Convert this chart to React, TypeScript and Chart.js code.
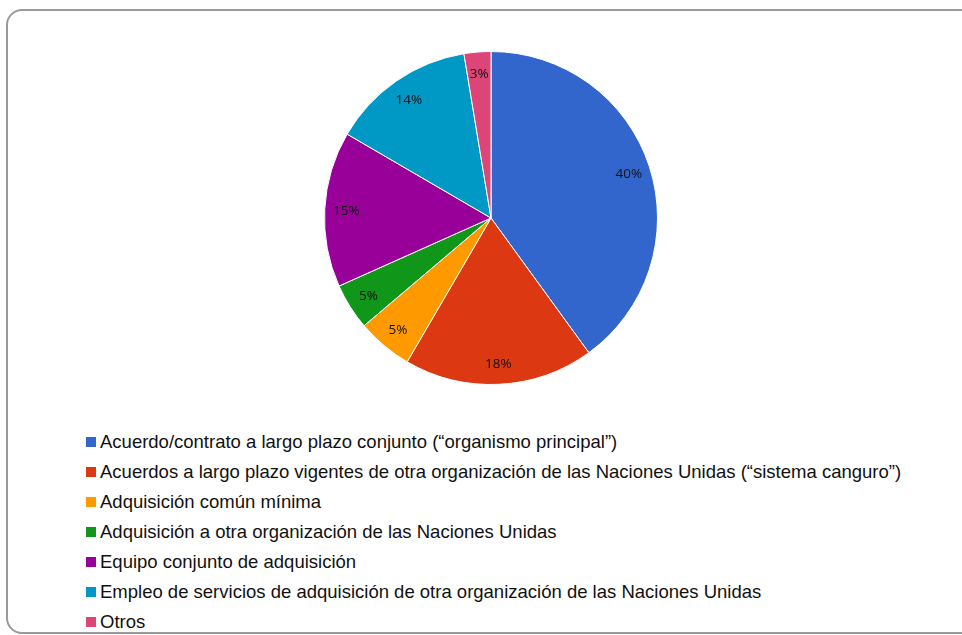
import React, { useEffect, useRef } from "react";
import { Chart, registerables } from "chart.js";

Chart.register(...registerables);

const categories: string[] = [
  "Acuerdo/contrato a largo plazo conjunto (“organismo principal”)",
  "Acuerdos a largo plazo vigentes de otra organización de las Naciones Unidas (“sistema canguro”)",
  "Adquisición común mínima",
  "Adquisición a otra organización de las Naciones Unidas",
  "Equipo conjunto de adquisición",
  "Empleo de servicios de adquisición de otra organización de las Naciones Unidas",
  "Otros",
];

const values: number[] = [40, 18.4, 5.4, 4.5, 15.1, 14.0, 2.6];

const colors: string[] = ["#3366CC", "#DC3912", "#FF9900", "#109618", "#990099", "#0099C6", "#DD4477"];

const labelPlugin = {
  id: "sliceLabels",
  afterDatasetsDraw(chart: any) {
    const ctx = chart.ctx;
    const meta = chart.getDatasetMeta(0);
    const data = chart.data.datasets[0].data as number[];
    ctx.save();
    ctx.font = "13.5px 'Open Sans', sans-serif";
    ctx.fillStyle = "#111111";
    ctx.textAlign = "center";
    ctx.textBaseline = "middle";
    meta.data.forEach((arc: any, i: number) => {
      const p = arc.getProps(["x", "y", "startAngle", "endAngle", "outerRadius"], true);
      const mid = (p.startAngle + p.endAngle) / 2;
      const r = p.outerRadius * 0.87;
      ctx.fillText(Math.round(data[i]) + "%", p.x + Math.cos(mid) * r, p.y + Math.sin(mid) * r + 1);
    });
    ctx.restore();
  },
};

export default function App() {
  const ref = useRef<HTMLCanvasElement | null>(null);

  useEffect(() => {
    if (!ref.current) return;
    const chart = new Chart(ref.current, {
      type: "pie",
      data: {
        labels: categories,
        datasets: [
          {
            data: values,
            backgroundColor: colors,
            borderColor: "#ffffff",
            borderWidth: 1,
          },
        ],
      },
      options: {
        animation: false,
        responsive: false,
        maintainAspectRatio: false,
        layout: { padding: 0 },
        plugins: {
          legend: { display: false },
          tooltip: { enabled: false },
        },
      },
      plugins: [labelPlugin],
    });
    return () => chart.destroy();
  }, []);

  return (
    <div
      style={{
        position: "fixed",
        left: 0,
        top: 0,
        width: 962,
        height: 635,
        overflow: "hidden",
        background: "#ffffff",
      }}
    >
      <div
        style={{
          position: "absolute",
          left: 6,
          top: 9,
          width: 1000,
          height: 625,
          border: "2px solid #9a9a9a",
          borderRadius: 16,
          boxSizing: "border-box",
        }}
      />
      <canvas
        ref={ref}
        width={334}
        height={334}
        style={{ position: "absolute", left: 324, top: 51, width: 334, height: 334 }}
      />
      <div
        style={{
          position: "absolute",
          left: 86,
          top: 427,
          fontFamily: "'Liberation Sans', Arial, sans-serif",
          fontSize: 18.5,
          color: "#111111",
        }}
      >
        {categories.map((c, i) => (
          <div key={i} style={{ display: "flex", alignItems: "center", height: 30, whiteSpace: "nowrap" }}>
            <span style={{ display: "inline-block", width: 10, height: 10, background: colors[i], marginRight: 4, flexShrink: 0 }} />
            <span>{c}</span>
          </div>
        ))}
      </div>
    </div>
  );
}
